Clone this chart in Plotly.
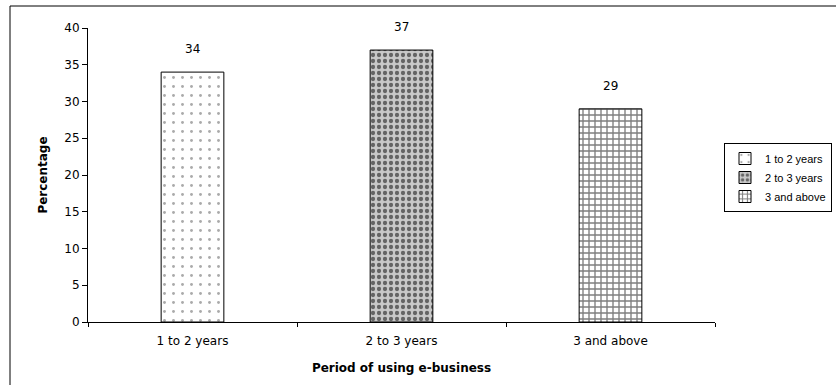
import plotly.graph_objects as go

categories = ["1 to 2 years", "2 to 3 years", "3 and above"]
values = [34, 37, 29]
y_ticks = [0, 5, 10, 15, 20, 25, 30, 35, 40]

W, H = 836, 385
ML, MR, MT, MB = 88, 121, 28, 63
PW, PH = W - ML - MR, H - MT - MB

FONT = "DejaVu Sans, Liberation Sans, Arial, sans-serif"
LFONT = "Liberation Sans, Arial, sans-serif"

patterns = [
    dict(shape=".", fgcolor="#555555", bgcolor="white", size=9, solidity=0.08),
    dict(shape=".", fgcolor="#000000", bgcolor="#c8c8c8", size=6, solidity=0.4),
    dict(shape="+", fgcolor="#000000", bgcolor="white", size=6, solidity=0.4),
]

fig = go.Figure()
for cat, val, pat in zip(categories, values, patterns):
    fig.add_trace(go.Bar(
        x=[cat], y=[val], name=cat, width=0.3,
        marker=dict(color="white", pattern=pat,
                    line=dict(color="black", width=1)),
        showlegend=True,
    ))

for cat, val in zip(categories, values):
    fig.add_annotation(x=cat, y=val, text=str(val), showarrow=False,
                       yanchor="middle", yshift=23,
                       font=dict(family=FONT, size=12, color="black"))

# outer chart border (left and top edges visible in the frame)
bx0 = (10 - ML) / PW
bx1 = (W + 20 - ML) / PW
by0 = -(H + 20 - MT - PH) / PH
by1 = (MT + PH - 6) / PH
fig.add_shape(type="line", xref="paper", yref="paper",
              x0=bx0, x1=bx0, y0=by0, y1=by1,
              line=dict(color="black", width=1))
fig.add_shape(type="line", xref="paper", yref="paper",
              x0=bx0, x1=bx1, y0=by1, y1=by1,
              line=dict(color="black", width=1))

fig.update_layout(
    width=W, height=H,
    margin=dict(l=ML, r=MR, t=MT, b=MB, autoexpand=False),
    paper_bgcolor="white", plot_bgcolor="white",
    barmode="overlay",
    font=dict(family=FONT, size=12, color="black"),
    legend=dict(x=(724 - ML) / PW, y=(MT + PH - 143) / PH,
                xanchor="left", yanchor="top",
                bordercolor="black", borderwidth=1, bgcolor="white",
                font=dict(family=LFONT, size=11, color="black"),
                itemwidth=30, tracegroupgap=0),
    xaxis=dict(
        showline=True, linecolor="black", linewidth=1,
        ticks="outside", tickson="boundaries", ticklen=4, tickcolor="black",
        showgrid=False, zeroline=False,
        range=[-0.5, 2.5],
        ticklabelstandoff=8,
        title=dict(text="<b>Period of using e-business</b>", standoff=16,
                   font=dict(family=FONT, size=12)),
        tickfont=dict(family=FONT, size=12),
    ),
    yaxis=dict(
        showline=True, linecolor="black", linewidth=1,
        ticks="outside", ticklen=5, tickcolor="black",
        showgrid=False, zeroline=False,
        range=[0, 40], tickvals=y_ticks,
        title=dict(text="<b>Percentage</b>", standoff=14,
                   font=dict(family=FONT, size=12)),
        tickfont=dict(family=FONT, size=12),
    ),
)

fig.write_html("out.html", config={"displayModeBar": False},
               post_script="document.body.style.margin='0';")
